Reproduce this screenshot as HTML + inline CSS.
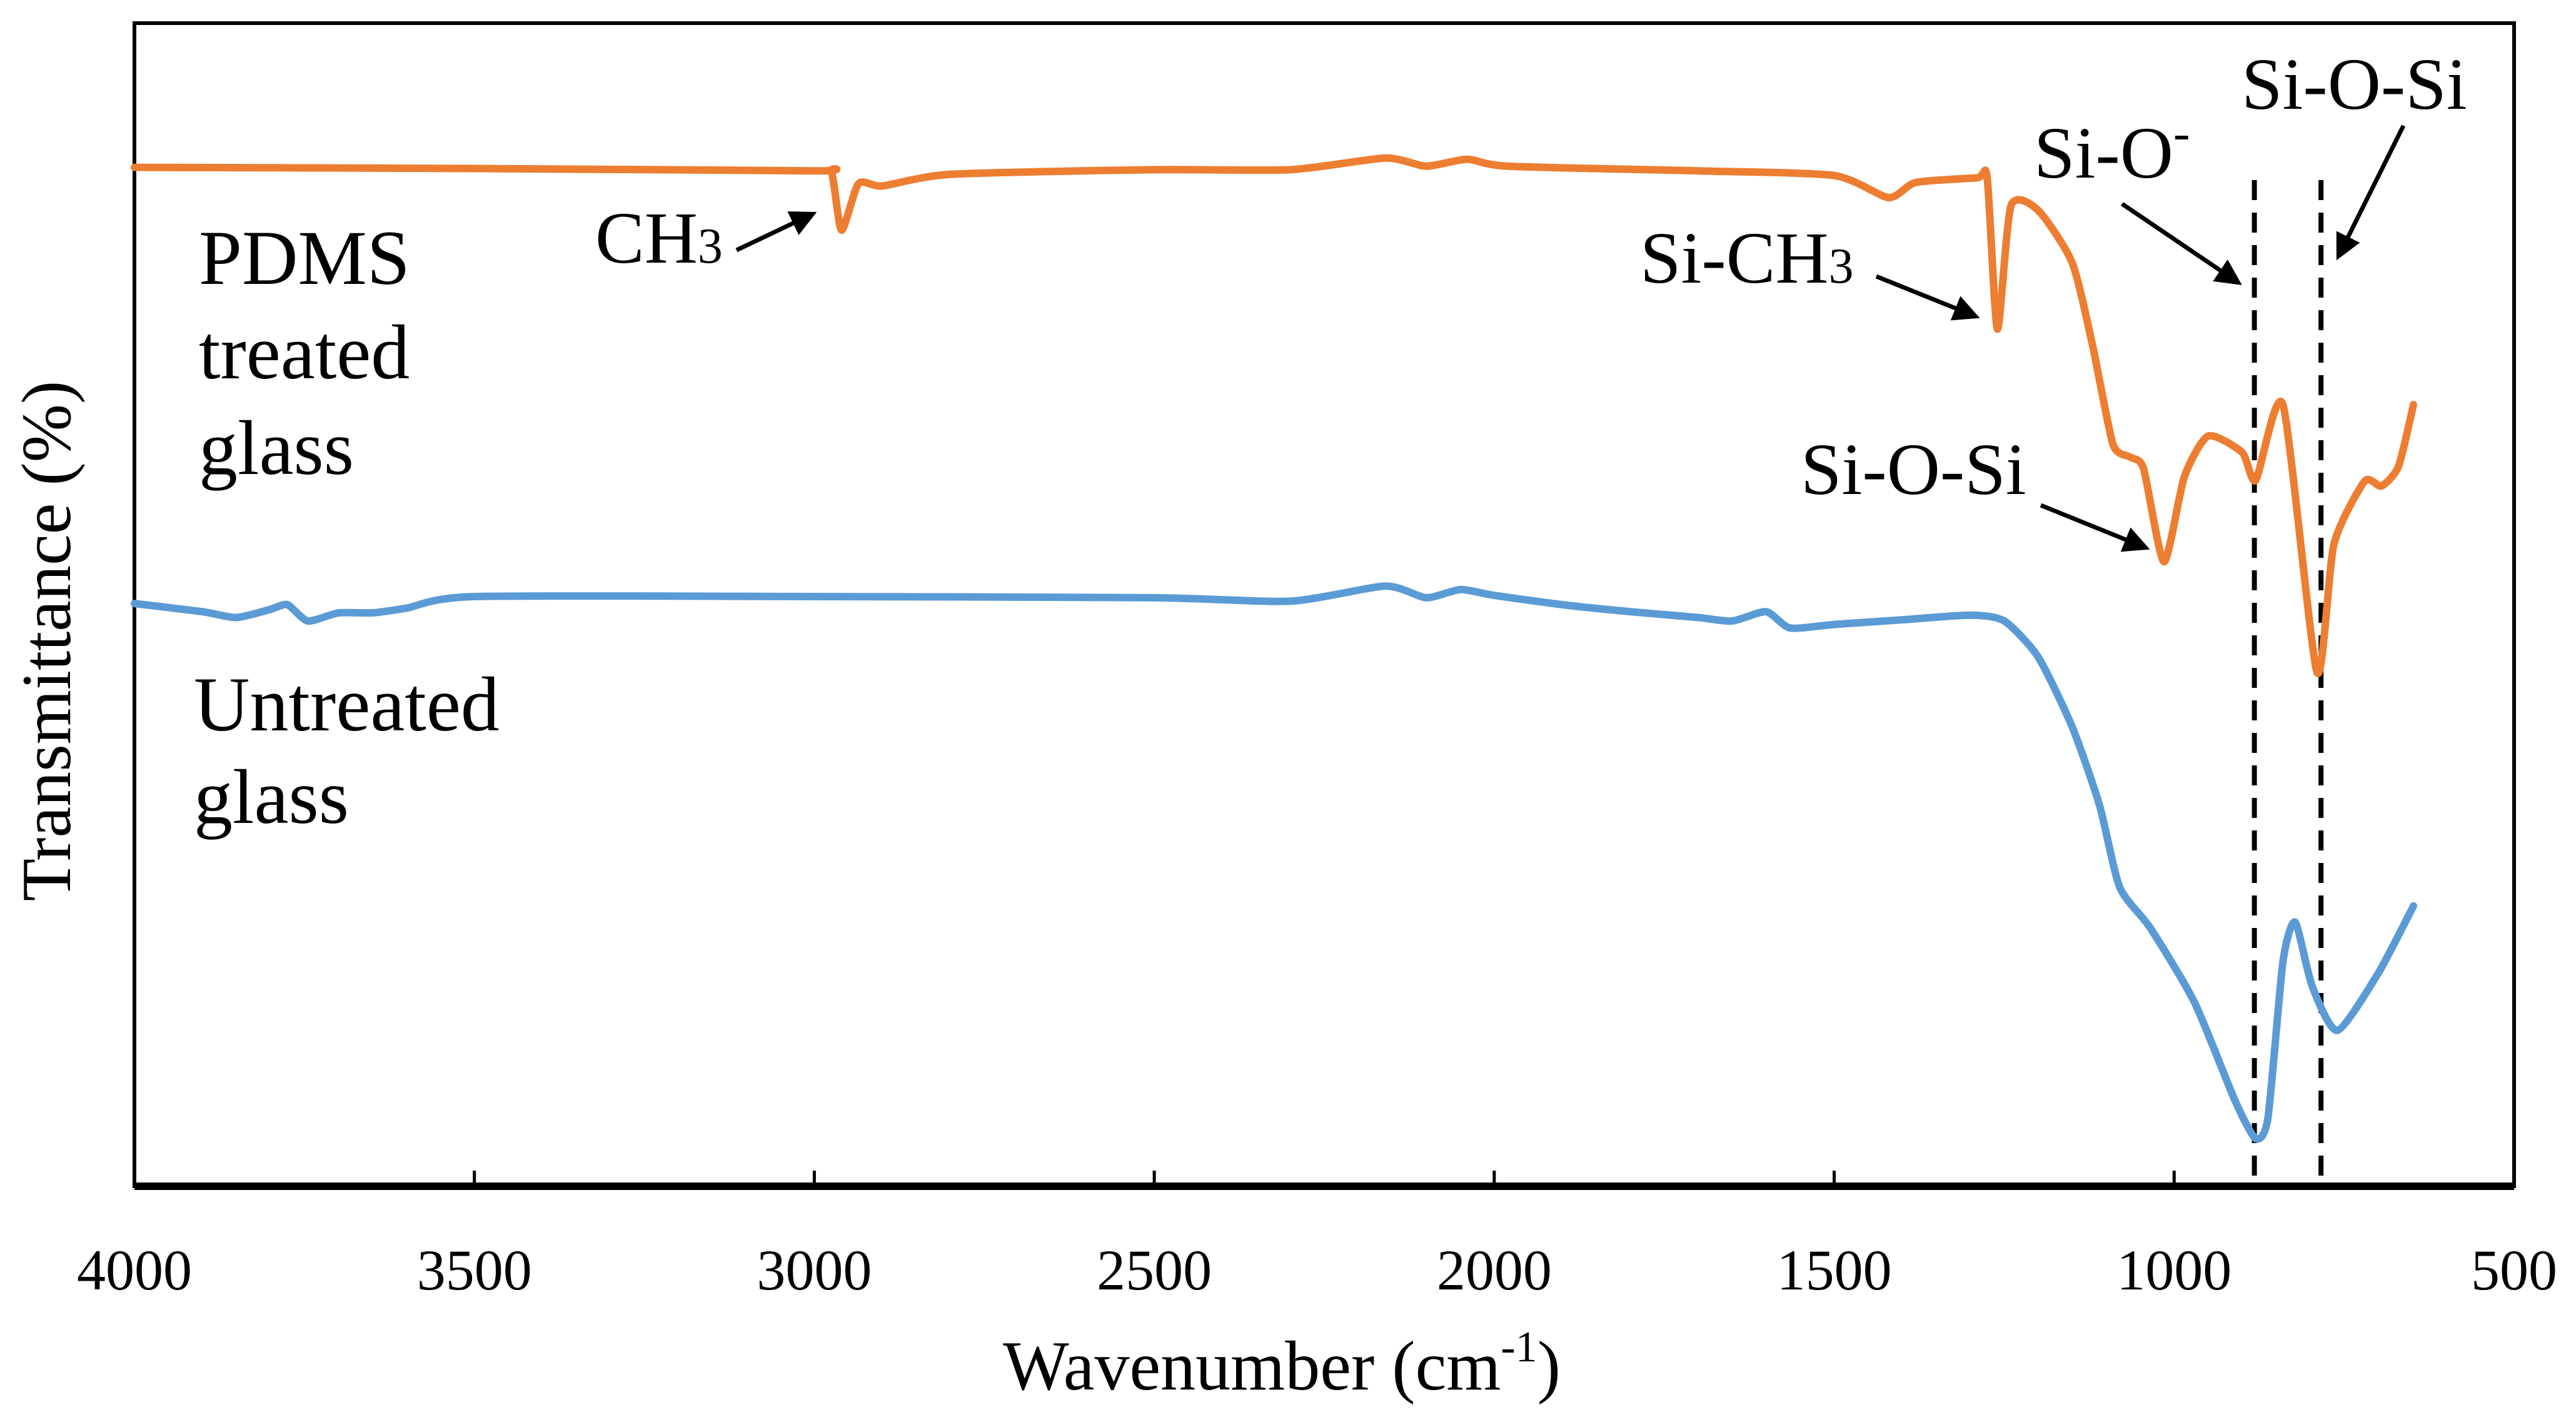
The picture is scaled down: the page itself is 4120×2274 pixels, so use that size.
<!DOCTYPE html>
<html><head><meta charset="utf-8">
<style>
html,body{margin:0;padding:0;background:#fff;}
svg{display:block;}
svg text{font-family:"Liberation Serif","Times New Roman",serif;fill:#000;}
</style></head>
<body>
<svg id="chart" width="4120" height="2274" viewBox="0 0 4120 2274" xmlns="http://www.w3.org/2000/svg" font-family="Liberation Serif, serif">
<defs>
<marker id="ah" markerWidth="6" markerHeight="6" refX="5" refY="3" orient="auto" markerUnits="strokeWidth"><path d="M0,0 L6,3 L0,6 z" fill="#000"/></marker>
</defs>
<rect x="215" y="37" width="3806" height="1860" fill="none" stroke="#000" stroke-width="6"/>
<line x1="215" y1="1897" x2="4021" y2="1897" stroke="#000" stroke-width="12"/>
<g id="ticks" font-family="Liberation Serif, serif"></g>
<g id="dashes"></g>
<g id="series"></g>
<text font-family="Liberation Serif, serif" x="0" y="0" font-size="112" text-anchor="middle" transform="translate(112,1025) rotate(-90)">Transmittance (%)</text>
<text font-family="Liberation Serif, serif" x="2050" y="2222" font-size="112" text-anchor="middle">Wavenumber (cm<tspan font-size="70" dy="-45">-1</tspan><tspan dy="45">)</tspan></text>
<g font-size="124" font-family="Liberation Serif, serif">
<text x="318" y="454">PDMS</text><text x="318" y="605">treated</text><text x="318" y="758">glass</text></g>
<g font-size="124" font-family="Liberation Serif, serif">
<text x="310" y="1168">Untreated</text><text x="310" y="1316">glass</text></g>
<g font-family="Liberation Serif, serif">
<text x="952" y="420" font-size="118">CH<tspan font-size="80">3</tspan></text>
<text x="2623" y="452" font-size="118">Si-CH<tspan font-size="80">3</tspan></text>
<text x="3253" y="284" font-size="118">Si-O<tspan font-size="80" dy="-45">-</tspan></text>
<text x="3585" y="174" font-size="118">Si-O-Si</text>
<text x="2880" y="790" font-size="118">Si-O-Si</text>
</g>
<g stroke="#000" stroke-width="7" fill="none">
<line x1="1178" y1="400" x2="1300" y2="342" marker-end="url(#ah)"/>
<line x1="3001" y1="442" x2="3160" y2="506" marker-end="url(#ah)"/>
<line x1="3394" y1="326" x2="3580" y2="452" marker-end="url(#ah)"/>
<line x1="3844" y1="201" x2="3740" y2="410" marker-end="url(#ah)"/>
<line x1="3264" y1="808" x2="3432" y2="876" marker-end="url(#ah)"/>
</g>
</svg>
<script>
const xTicks = [4000,3500,3000,2500,2000,1500,1000,500];
const dashedMarkers = [882,784];
const pdmsWn = [4000,3500,3000,2975,2960,2935,2900,2800,2500,2300,2160,2100,2040,1980,1700,1500,1420,1380,1290,1275,1260,1240,1200,1150,1120,1090,1065,1045,1015,985,950,900,880,840,790,765,720,695,670,648];
const pdmsT = [87.6,87.5,87.3,87.2,82.2,86.2,86.0,87.0,87.4,87.4,88.4,87.7,88.3,87.7,87.3,86.9,85.0,86.3,86.7,86.7,73.7,84.3,83.9,79.4,72.3,63.8,62.7,61.7,53.7,61.0,64.5,63.1,60.7,67.2,44.2,55.2,60.6,60.2,61.9,67.2];
const glassWn = [4000,3900,3850,3800,3775,3745,3700,3650,3600,3500,3000,2500,2300,2160,2100,2050,2000,1900,1800,1700,1650,1600,1565,1500,1400,1300,1250,1200,1150,1110,1080,1035,970,910,880,862,840,822,797,760,700,648];
const glassT = [50.1,49.4,48.9,49.6,50.0,48.6,49.3,49.3,49.7,50.7,50.7,50.6,50.3,51.6,50.6,51.3,50.8,50.0,49.4,48.9,48.6,49.4,48.0,48.3,48.7,49.1,48.6,45.5,39.5,32.8,25.7,22.2,15.8,7.3,4.1,5.9,19.3,22.7,17.2,13.4,18.3,24.1];

const NS='http://www.w3.org/2000/svg';
function xs(w){return 215+(4000-w)/3500*3806;}
function ys(v){return 1897-v/100*1860;}
const tg=document.getElementById('ticks');
xTicks.forEach(t=>{
  const x=xs(t);
  if(t!==4000&&t!==500){
    const l=document.createElementNS(NS,'line');
    l.setAttribute('x1',x);l.setAttribute('x2',x);l.setAttribute('y1',1897);l.setAttribute('y2',1872);
    l.setAttribute('stroke','#000');l.setAttribute('stroke-width',5);
    
    
    tg.appendChild(l);
  }
  const tx=document.createElementNS(NS,'text');
  tx.setAttribute('x',x);tx.setAttribute('y',2062);tx.setAttribute('font-size',92);tx.setAttribute('text-anchor','middle');
  tx.setAttribute('font-family','Liberation Serif, serif');
  tx.textContent=t;
  
  
  tg.appendChild(tx);
});
const dg=document.getElementById('dashes');
dashedMarkers.forEach(w=>{
  const l=document.createElementNS(NS,'line');
  l.setAttribute('x1',xs(w));l.setAttribute('x2',xs(w));l.setAttribute('y1',288);l.setAttribute('y2',1897);
  l.setAttribute('stroke','#000');l.setAttribute('stroke-width',8);l.setAttribute('stroke-dasharray','32 20');
  
  
  dg.appendChild(l);
});
function pathFor(wn,v){
  const p=wn.map((w,i)=>[xs(w),ys(v[i])]);
  let d='M'+p[0][0]+','+p[0][1];
  for(let i=0;i<p.length-1;i++){
    const p0=p[i-1]||p[i],p1=p[i],p2=p[i+1],p3=p[i+2]||p2;
    const k=1/9;
    d+=' C'+(p1[0]+(p2[0]-p0[0])*k)+','+(p1[1]+(p2[1]-p0[1])*k)+' '+(p2[0]-(p3[0]-p1[0])*k)+','+(p2[1]-(p3[1]-p1[1])*k)+' '+p2[0]+','+p2[1];
  }
  return d;
}
const sg=document.getElementById('series');
[[glassWn,glassT,'#5B9BD5','untreated-glass-line'],[pdmsWn,pdmsT,'#ED7D31','pdms-treated-line']].forEach(s=>{
  const path=document.createElementNS(NS,'path');
  path.setAttribute('d',pathFor(s[0],s[1]));
  path.setAttribute('fill','none');path.setAttribute('stroke',s[2]);path.setAttribute('stroke-width',12);
  path.setAttribute('stroke-linejoin','round');path.setAttribute('stroke-linecap','round');
  
  
  sg.appendChild(path);
});
</script>
</body></html>
